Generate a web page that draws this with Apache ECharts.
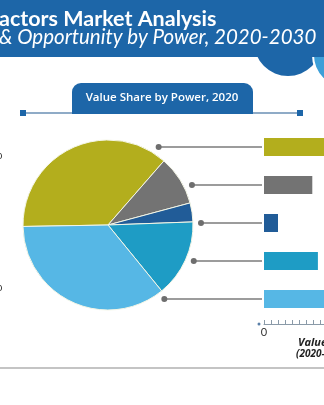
<!DOCTYPE html>
<html>
<head>
<meta charset="utf-8">
<script src="https://cdn.jsdelivr.net/npm/echarts@6/dist/echarts.min.js"></script>
<style>
  html, body { margin: 0; padding: 0; background: #ffffff; overflow: hidden; width: 324px; height: 405px; }
  #chart { width: 520px; height: 405px; }
</style>
</head>
<body>
<div id="chart"></div>
<script>
// Segment names, in drawing order
const categories = ['Segment A', 'Segment B', 'Segment C', 'Segment D', 'Segment E'];
// Value share by power, 2020 (%)
const shareValues = [36.7, 9.4, 3.6, 14.7, 35.6];
// Market value by segment (bar lengths)
const barValues = [12.5, 6.9, 2.0, 7.7, 12.8];
// Value axis tick labels
const axisTicks = [0, 10, 20];
const colors = ['#b3ae1d', '#737373', '#215c98', '#1e9cc5', '#56b7e5'];

const PIE_CX = 108, PIE_CY = 225, PIE_R = 85, DOT_R = 93;

const chart = echarts.init(document.getElementById('chart'), null, { renderer: 'canvas' });

const option = {
  animation: false,
  backgroundColor: '#ffffff',
  grid: { left: 264, top: 128, width: 140, height: 190, containLabel: false },
  xAxis: {
    type: 'value',
    min: axisTicks[0],
    max: axisTicks[axisTicks.length - 1],
    interval: axisTicks[1] - axisTicks[0],
    offset: 6,
    axisLine: { show: true, lineStyle: { color: '#8a9aa8', width: 1 } },
    axisTick: { show: true, inside: true, length: 4, lineStyle: { color: '#8a9aa8' } },
    minorTick: { show: true, splitNumber: 10, length: 4, lineStyle: { color: '#8a9aa8' } },
    splitLine: { show: false },
    axisLabel: { color: '#333', fontSize: 11, fontFamily: 'Lato', margin: 3 }
  },
  yAxis: {
    type: 'category',
    data: categories,
    inverse: true,
    show: false
  },
  series: [
    {
      type: 'pie',
      center: [PIE_CX, PIE_CY],
      radius: PIE_R,
      startAngle: 181,
      clockwise: true,
      label: { show: false },
      labelLine: { show: false },
      itemStyle: { borderColor: '#f4f6e6', borderWidth: 1 },
      data: categories.map((c, i) => ({ name: c, value: shareValues[i], itemStyle: { color: colors[i] } }))
    },
    {
      type: 'bar',
      barWidth: 18,
      data: barValues.map((v, i) => ({ value: v, itemStyle: { color: colors[i] } }))
    }
  ]
};

chart.setOption(option);

// Decorations, header and leader lines
function buildGraphics() {
  const g = [];
  // header band with rounded bulge and accent circle
  g.push({ type: 'circle', shape: { cx: 288, cy: 42, r: 34 }, style: { fill: '#1d66a8' }, z: 1 });
  g.push({ type: 'circle', shape: { cx: 346, cy: 55, r: 33 }, style: { fill: '#3d9fd8', stroke: '#ffffff', lineWidth: 2 }, z: 2 });
  g.push({ type: 'rect', shape: { x: 0, y: 0, width: 324, height: 57 }, style: { fill: '#1d66a8' }, z: 3 });
  g.push({ type: 'text', x: -1, y: 19, style: { text: 'actors Market Analysis', fill: '#ffffff', font: 'bold 21.5px Lato', verticalAlign: 'middle' }, z: 5 });
  g.push({ type: 'text', x: -1, y: 37, style: { text: '& Opportunity by Power, 2020-2030', fill: '#ffffff', font: 'italic 20.5px Lato', verticalAlign: 'middle' }, z: 5 });

  // sub-heading tab
  g.push({ type: 'line', shape: { x1: 23, y1: 113, x2: 300, y2: 113 }, style: { stroke: '#6a8fb5', lineWidth: 1.5 }, z: 4 });
  g.push({ type: 'rect', shape: { x: 20, y: 110, width: 6, height: 6 }, style: { fill: '#1d66a8' }, z: 5 });
  g.push({ type: 'rect', shape: { x: 297, y: 110, width: 6, height: 6 }, style: { fill: '#1d66a8' }, z: 5 });
  g.push({ type: 'rect', shape: { x: 72, y: 83, width: 181, height: 31, r: [9, 9, 0, 0] }, style: { fill: '#1d66a8' }, z: 5 });
  g.push({ type: 'text', x: 162, y: 98, style: { text: 'Value Share by Power, 2020', fill: '#ffffff', font: '600 11.5px "Open Sans"', align: 'center', verticalAlign: 'middle' }, z: 6 });

  // leader lines from pie rim to bars
  categories.forEach((c, i) => {
    const y = chart.convertToPixel({ yAxisIndex: 0 }, c);
    const dy = y - PIE_CY;
    const x0 = PIE_CX + Math.sqrt(Math.max(0, DOT_R * DOT_R - dy * dy));
    g.push({ type: 'line', shape: { x1: x0, y1: y, x2: 262, y2: y }, style: { stroke: '#7b7b7b', lineWidth: 1.3 }, z: 4 });
    g.push({ type: 'circle', shape: { cx: x0, cy: y, r: 3 }, style: { fill: '#6e6e6e' }, z: 5 });
  });

  // axis start marker and title
  g.push({ type: 'circle', shape: { cx: 259, cy: 324, r: 1.5 }, style: { fill: '#5a7fa8' }, z: 5 });
  g.push({ type: 'text', x: 298, y: 343, style: { text: 'Value', fill: '#222', font: 'italic bold 11px "Open Sans"', verticalAlign: 'middle' }, z: 5 });
  g.push({ type: 'text', x: 296, y: 354, style: { text: '(2020-2030)', fill: '#222', font: 'italic bold 10px "Open Sans"', verticalAlign: 'middle' }, z: 5 });

  // left-side label fragments
  g.push({ type: 'text', x: -4, y: 156, style: { text: 'o', fill: '#333', font: '11px "Open Sans"', verticalAlign: 'middle' }, z: 5 });
  g.push({ type: 'text', x: -4, y: 288, style: { text: 'o', fill: '#333', font: '11px "Open Sans"', verticalAlign: 'middle' }, z: 5 });

  // footer rule
  g.push({ type: 'line', shape: { x1: 0, y1: 368, x2: 520, y2: 368 }, style: { stroke: '#b0b0b0', lineWidth: 1.5 }, z: 4 });
  return g;
}

chart.setOption({ graphic: buildGraphics() });
</script>
</body>
</html>
